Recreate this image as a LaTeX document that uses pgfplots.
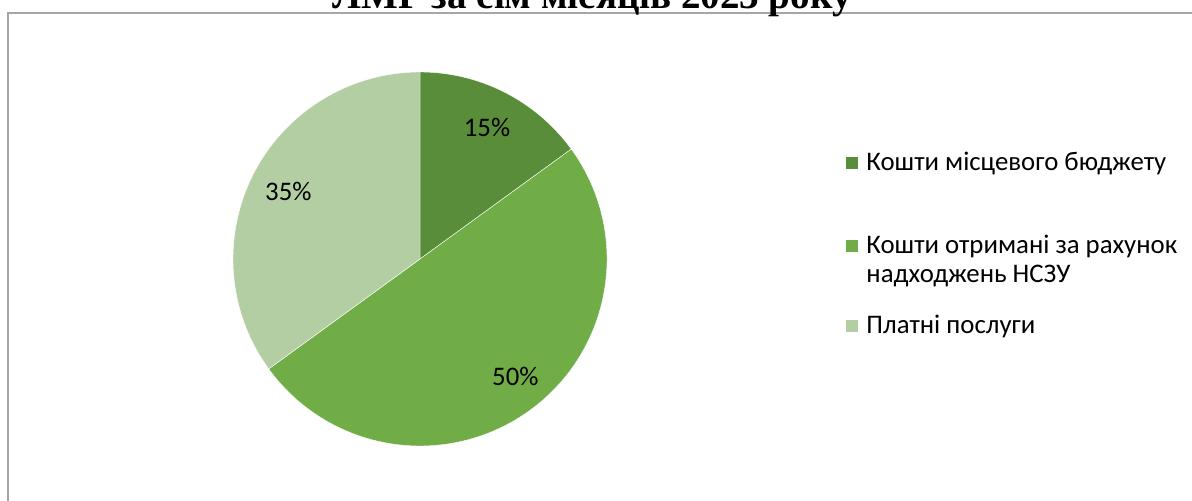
\documentclass[border=0pt]{standalone}
\usepackage{pgfplots}
\usepackage{pgfplotstable}
\pgfplotsset{compat=1.18}
\usepackage{fontspec}
\setmainfont{Carlito}
\newfontfamily\titlefont{Liberation Serif}

\definecolor{sliceA}{HTML}{5A8D3A}
\definecolor{sliceB}{HTML}{70AD47}
\definecolor{sliceC}{HTML}{B4CEA4}
\definecolor{framegray}{HTML}{A6A6A6}

% shares in percent, clockwise from 12 o'clock
\pgfplotstableread{
share
15
50
35
}\piedata

\begin{document}
\begin{tikzpicture}
\useasboundingbox (0,0) rectangle (596pt,-250.5pt);
\clip (0,0) rectangle (596pt,-250.5pt);

% angles from the table
\pgfplotstablegetelem{0}{share}\of\piedata \let\vA\pgfplotsretval
\pgfplotstablegetelem{1}{share}\of\piedata \let\vB\pgfplotsretval
\pgfplotstablegetelem{2}{share}\of\piedata \let\vC\pgfplotsretval
\pgfmathsetmacro{\aA}{90}
\pgfmathsetmacro{\aB}{\aA-3.6*\vA}
\pgfmathsetmacro{\aC}{\aB-3.6*\vB}
\pgfmathsetmacro{\aD}{\aC-3.6*\vC}
\pgfmathsetmacro{\mA}{(\aA+\aB)/2}
\pgfmathsetmacro{\mB}{(\aB+\aC)/2}
\pgfmathsetmacro{\mC}{(\aC+\aD)/2}

% chart frame
\draw[framegray, line width=1pt] (4pt,-260pt) -- (4pt,-6.5pt) -- (610pt,-6.5pt);

% title (cut off at the top, as in the reference)
\node[anchor=base, font=\titlefont\bfseries\fontsize{19.5}{22}\selectfont, inner sep=0pt]
  at (296pt,-4.5pt) {ЛМР за сім місяців 2023 року};

\begin{axis}[
    at={(210pt,-129.5pt)}, anchor=center,
    scale only axis, width=187pt, height=187pt,
    hide axis, clip=false,
    xmin=-1, xmax=1, ymin=-1, ymax=1,
]
  \fill[sliceA, draw=white, line width=0.2pt] (axis cs:0,0) -- ++(\aA:93.5pt) arc[start angle=\aA, end angle=\aB, radius=93.5pt] -- cycle;
  \fill[sliceB, draw=white, line width=0.2pt] (axis cs:0,0) -- ++(\aB:93.5pt) arc[start angle=\aB, end angle=\aC, radius=93.5pt] -- cycle;
  \fill[sliceC, draw=white, line width=0.2pt] (axis cs:0,0) -- ++(\aC:93.5pt) arc[start angle=\aC, end angle=\aD, radius=93.5pt] -- cycle;

  \node[font=\fontsize{13.4}{15}\selectfont] at (axis cs:{0.79*cos(\mA)},{0.79*sin(\mA)}) {\vA\%};
  \node[font=\fontsize{13.4}{15}\selectfont] at (axis cs:{0.81*cos(\mB+3)},{0.81*sin(\mB+3)}) {\vB\%};
  \node[font=\fontsize{13.4}{15}\selectfont] at (axis cs:{0.79*cos(\mC)},{0.79*sin(\mC)}) {\vC\%};
\end{axis}

% legend
\begin{scope}[every node/.style={anchor=west, inner sep=0pt, font=\fontsize{13.4}{15}\selectfont}]
  \fill[sliceA] (423pt,-78.5pt) rectangle (429pt,-84.5pt);
  \node at (433pt,-81.5pt) {Кошти місцевого бюджету};
  \fill[sliceB] (423pt,-120pt) rectangle (429pt,-126pt);
  \node at (433pt,-123pt) {Кошти отримані за рахунок};
  \node at (433pt,-138pt) {надходжень НСЗУ};
  \fill[sliceC] (423pt,-160pt) rectangle (429pt,-166pt);
  \node at (433pt,-163pt) {Платні послуги};
\end{scope}
\end{tikzpicture}
\end{document}
